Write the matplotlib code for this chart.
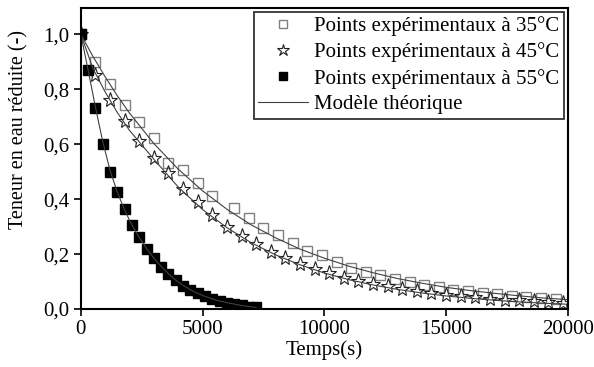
import matplotlib
matplotlib.use("Agg")
from matplotlib import pyplot as plt

# Experimental points (time in s, reduced water content)
t_35 = [0, 600, 1200, 1800, 2400, 3000, 3600, 4200, 4800, 5400,
        6300, 6900, 7500, 8100, 8700, 9300, 9900, 10500, 11100, 11700,
        12300, 12900, 13500, 14100, 14700, 15300, 15900, 16500, 17100,
        17700, 18300, 18900, 19500]
x_35 = [1.0, 0.90, 0.82, 0.742, 0.68, 0.622, 0.53, 0.506, 0.458, 0.41,
        0.367, 0.332, 0.295, 0.268, 0.241, 0.212, 0.195, 0.172, 0.15, 0.136,
        0.122, 0.109, 0.099, 0.088, 0.079, 0.071, 0.065, 0.059, 0.054,
        0.049, 0.045, 0.041, 0.037]

t_45 = [0, 600, 1200, 1800, 2400, 3000, 3600, 4200, 4800, 5400,
        6000, 6600, 7200, 7800, 8400, 9000, 9600, 10200, 10800, 11400,
        12000, 12600, 13200, 13800, 14400, 15000, 15600, 16200, 16800,
        17400, 18000, 18600, 19200, 19800]
x_45 = [1.0, 0.852, 0.762, 0.683, 0.611, 0.548, 0.495, 0.437, 0.389, 0.343,
        0.298, 0.266, 0.235, 0.206, 0.184, 0.164, 0.145, 0.13, 0.114, 0.102,
        0.091, 0.082, 0.073, 0.066, 0.058, 0.052, 0.047, 0.042, 0.038,
        0.034, 0.031, 0.028, 0.025, 0.022]

t_55 = [0, 300, 600, 900, 1200, 1500, 1800, 2100, 2400, 2700, 3000, 3300,
        3600, 3900, 4200, 4500, 4800, 5100, 5400, 5700, 6000, 6300, 6600,
        6900, 7200]
x_55 = [1.0, 0.87, 0.73, 0.60, 0.50, 0.425, 0.363, 0.307, 0.262, 0.22,
        0.184, 0.154, 0.128, 0.104, 0.085, 0.07, 0.057, 0.046, 0.037, 0.029,
        0.023, 0.018, 0.013, 0.009, 0.006]

# Theoretical model curves
t_mod = [0, 500, 1000, 1500, 2000, 3000, 4000, 5000, 6000, 7000, 8000,
         9000, 10000, 11000, 12000, 13000, 14000, 15000, 16000, 17000,
         18000, 19000, 20000]
m_35 = [1.0, 0.919, 0.845, 0.776, 0.713, 0.602, 0.509, 0.430, 0.363, 0.306,
        0.259, 0.218, 0.185, 0.156, 0.132, 0.111, 0.094, 0.079, 0.067, 0.057,
        0.048, 0.040, 0.034]
m_45 = [1.0, 0.875, 0.79, 0.715, 0.65, 0.545, 0.444, 0.362, 0.296, 0.241,
        0.197, 0.161, 0.131, 0.107, 0.0875, 0.0714, 0.0583, 0.0476, 0.0389,
        0.0317, 0.0259, 0.0211, 0.0173]
m_55 = [1.0, 0.87, 0.735, 0.61, 0.505, 0.425, 0.36, 0.305, 0.26, 0.22,
        0.185, 0.155, 0.128, 0.105, 0.086, 0.07, 0.057, 0.046, 0.037, 0.029,
        0.023, 0.018, 0.013, 0.009, 0.006]

y_ticks = [0.0, 0.2, 0.4, 0.6, 0.8, 1.0]
y_labels = ["0,0", "0,2", "0,4", "0,6", "0,8", "1,0"]
x_ticks = [0, 5000, 10000, 15000, 20000]

plt.rcParams["font.family"] = ["Liberation Serif", "DejaVu Serif"]

fig = plt.figure(figsize=(5.94, 3.67), dpi=100)
ax = fig.add_axes([0.136, 0.158, 0.820, 0.820])

ax.plot(t_35, x_35, linestyle="none", marker="s", markersize=7.5,
        markerfacecolor="none", markeredgecolor="#808080", markeredgewidth=1.0,
        label="Points expérimentaux à 35°C")
ax.plot(t_45, x_45, linestyle="none", marker="*", markersize=11,
        markerfacecolor="none", markeredgecolor="#202020", markeredgewidth=0.8,
        label="Points expérimentaux à 45°C")
ax.plot(t_55, x_55, linestyle="none", marker="s", markersize=6.5,
        color="black", label="Points expérimentaux à 55°C")
ax.plot(t_mod, m_35, color="#404040", linewidth=0.8, label="Modèle théorique")
ax.plot(t_mod, m_45, color="#404040", linewidth=0.8)
ax.plot(t_55, m_55, color="#404040", linewidth=0.8)

ax.set_xlim(0, 20000)
ax.set_ylim(0, 1.095)
ax.set_xticks(x_ticks)
ax.set_yticks(y_ticks)
ax.set_yticklabels(y_labels)
ax.tick_params(direction="out", length=5, width=1.2, labelsize=15, pad=3)
for side in ax.spines.values():
    side.set_linewidth(1.5)

ax.set_xlabel("Temps(s)", fontsize=15, labelpad=1)
ax.set_ylabel("Teneur en eau réduite (-)", fontsize=14.5)
ax.yaxis.set_label_coords(-0.108, 0.595)

leg = ax.legend(loc="upper right", fontsize=15, frameon=True, fancybox=False,
                borderaxespad=0.2, handlelength=2.4, handletextpad=0.3,
                labelspacing=0.3, borderpad=0.2, markerscale=0.85)
leg.get_frame().set_edgecolor("black")
leg.get_frame().set_linewidth(1.3)

fig.savefig("out.png", dpi=100)
